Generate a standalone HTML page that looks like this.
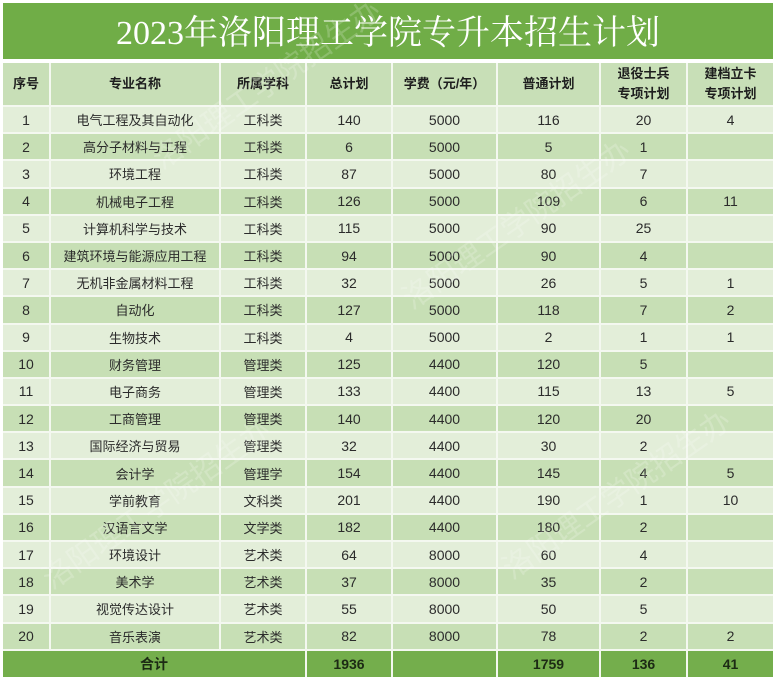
<!DOCTYPE html>
<html><head><meta charset="utf-8">
<style>
html,body{margin:0;padding:0;background:#fff;}
body{width:776px;height:681px;position:relative;overflow:hidden;font-family:"Liberation Sans","Noto Sans CJK SC",sans-serif;}
.title{position:absolute;left:3px;top:3px;width:770px;height:56px;background:#70ad47;color:#fff;
 font-family:"Liberation Serif","Noto Serif CJK SC",serif;font-size:34px;line-height:62px;text-align:center;letter-spacing:0px;}
.grid{position:absolute;left:3px;top:63px;width:770px;height:614px;background:#f4f8f0;display:grid;
 grid-template-columns:46px 168px 84px 84px 103px 101px 85px 85px;
 grid-template-rows:42px repeat(20,25.2px) 26px;gap:2px;}
.grid div{display:flex;align-items:center;justify-content:center;color:#2b2b2b;font-size:13px;text-align:center;}
.h{background:#c8dfb7;font-weight:bold;color:#1e1e1e !important;line-height:20px;}
.o{background:#e3eed9;}
.e{background:#c7dfb5;}
.n{font-size:14px !important;}
.t{background:#74ae4c;font-weight:bold;font-size:14px !important;color:#1c2a14 !important;}
.wm{position:absolute;color:rgba(255,255,255,0.2);font-size:30px;transform:rotate(-35deg);white-space:nowrap;pointer-events:none;font-family:"Liberation Sans","Noto Sans CJK SC",sans-serif;}
</style></head><body>
<div class="title">2023年洛阳理工学院专升本招生计划</div>
<div class="grid">
<div class="h">序号</div><div class="h">专业名称</div><div class="h">所属学科</div><div class="h">总计划</div><div class="h">学费（元/年）</div><div class="h">普通计划</div><div class="h">退役士兵<br>专项计划</div><div class="h">建档立卡<br>专项计划</div>

<div class="o n">1</div><div class="o">电气工程及其自动化</div><div class="o">工科类</div><div class="o n">140</div><div class="o n">5000</div><div class="o n">116</div><div class="o n">20</div><div class="o n">4</div>
<div class="e n">2</div><div class="e">高分子材料与工程</div><div class="e">工科类</div><div class="e n">6</div><div class="e n">5000</div><div class="e n">5</div><div class="e n">1</div><div class="e n"></div>
<div class="o n">3</div><div class="o">环境工程</div><div class="o">工科类</div><div class="o n">87</div><div class="o n">5000</div><div class="o n">80</div><div class="o n">7</div><div class="o n"></div>
<div class="e n">4</div><div class="e">机械电子工程</div><div class="e">工科类</div><div class="e n">126</div><div class="e n">5000</div><div class="e n">109</div><div class="e n">6</div><div class="e n">11</div>
<div class="o n">5</div><div class="o">计算机科学与技术</div><div class="o">工科类</div><div class="o n">115</div><div class="o n">5000</div><div class="o n">90</div><div class="o n">25</div><div class="o n"></div>
<div class="e n">6</div><div class="e">建筑环境与能源应用工程</div><div class="e">工科类</div><div class="e n">94</div><div class="e n">5000</div><div class="e n">90</div><div class="e n">4</div><div class="e n"></div>
<div class="o n">7</div><div class="o">无机非金属材料工程</div><div class="o">工科类</div><div class="o n">32</div><div class="o n">5000</div><div class="o n">26</div><div class="o n">5</div><div class="o n">1</div>
<div class="e n">8</div><div class="e">自动化</div><div class="e">工科类</div><div class="e n">127</div><div class="e n">5000</div><div class="e n">118</div><div class="e n">7</div><div class="e n">2</div>
<div class="o n">9</div><div class="o">生物技术</div><div class="o">工科类</div><div class="o n">4</div><div class="o n">5000</div><div class="o n">2</div><div class="o n">1</div><div class="o n">1</div>
<div class="e n">10</div><div class="e">财务管理</div><div class="e">管理类</div><div class="e n">125</div><div class="e n">4400</div><div class="e n">120</div><div class="e n">5</div><div class="e n"></div>
<div class="o n">11</div><div class="o">电子商务</div><div class="o">管理类</div><div class="o n">133</div><div class="o n">4400</div><div class="o n">115</div><div class="o n">13</div><div class="o n">5</div>
<div class="e n">12</div><div class="e">工商管理</div><div class="e">管理类</div><div class="e n">140</div><div class="e n">4400</div><div class="e n">120</div><div class="e n">20</div><div class="e n"></div>
<div class="o n">13</div><div class="o">国际经济与贸易</div><div class="o">管理类</div><div class="o n">32</div><div class="o n">4400</div><div class="o n">30</div><div class="o n">2</div><div class="o n"></div>
<div class="e n">14</div><div class="e">会计学</div><div class="e">管理学</div><div class="e n">154</div><div class="e n">4400</div><div class="e n">145</div><div class="e n">4</div><div class="e n">5</div>
<div class="o n">15</div><div class="o">学前教育</div><div class="o">文科类</div><div class="o n">201</div><div class="o n">4400</div><div class="o n">190</div><div class="o n">1</div><div class="o n">10</div>
<div class="e n">16</div><div class="e">汉语言文学</div><div class="e">文学类</div><div class="e n">182</div><div class="e n">4400</div><div class="e n">180</div><div class="e n">2</div><div class="e n"></div>
<div class="o n">17</div><div class="o">环境设计</div><div class="o">艺术类</div><div class="o n">64</div><div class="o n">8000</div><div class="o n">60</div><div class="o n">4</div><div class="o n"></div>
<div class="e n">18</div><div class="e">美术学</div><div class="e">艺术类</div><div class="e n">37</div><div class="e n">8000</div><div class="e n">35</div><div class="e n">2</div><div class="e n"></div>
<div class="o n">19</div><div class="o">视觉传达设计</div><div class="o">艺术类</div><div class="o n">55</div><div class="o n">8000</div><div class="o n">50</div><div class="o n">5</div><div class="o n"></div>
<div class="e n">20</div><div class="e">音乐表演</div><div class="e">艺术类</div><div class="e n">82</div><div class="e n">8000</div><div class="e n">78</div><div class="e n">2</div><div class="e n">2</div>

<div class="t" style="grid-column:1 / span 3;">合计</div><div class="t">1936</div><div class="t"></div><div class="t">1759</div><div class="t">136</div><div class="t">41</div>
</div>
<div class="wm" style="left:130px;top:60px;">洛阳理工学院招生办</div>
<div class="wm" style="left:380px;top:200px;">洛阳理工学院招生办</div>
<div class="wm" style="left:20px;top:480px;">洛阳理工学院招生办</div>
<div class="wm" style="left:480px;top:470px;">洛阳理工学院招生办</div>
</body></html>
